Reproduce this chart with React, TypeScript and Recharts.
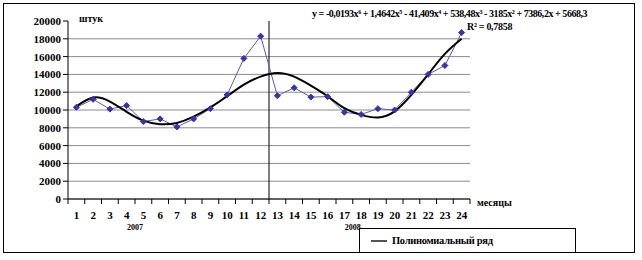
import { LineChart, Line, XAxis, YAxis, CartesianGrid, ReferenceLine } from "recharts"

// months 1..24 (2007 + 2008)
const months = [
  "1", "2", "3", "4", "5", "6", "7", "8", "9", "10", "11", "12",
  "13", "14", "15", "16", "17", "18", "19", "20", "21", "22", "23", "24",
]

// actual sales, pcs
const sales = [
  10300, 11200, 10100, 10500, 8700, 9000, 8100, 9000, 10150, 11700, 15800, 18300,
  11600, 12500, 11450, 11500, 9750, 9500, 10150, 10000, 12000, 14000, 15000, 18700,
]

// polynomial trendline
const trend = [
  10400, 11400, 10950, 9800, 8800, 8400, 8550, 9250, 10300, 11550, 12850, 13750,
  14150, 13750, 12750, 11550, 10200, 9450, 9150, 9850, 11700, 14000, 16300, 18000,
]

const yTicks = [0, 2000, 4000, 6000, 8000, 10000, 12000, 14000, 16000, 18000, 20000]
const gridValues = yTicks.filter((v) => v < 20000)

const years = [
  { label: "2007", at: "5" },
  { label: "2008", at: "18" },
]

const data = months.map((m, i) => ({ month: m, sales: sales[i], trend: trend[i] }))

const FONT = "'Liberation Serif', 'Times New Roman', serif"

function Diamond(props: any) {
  const { cx, cy } = props
  if (cx == null || cy == null) return null
  const r = 3
  return (
    <polygon
      points={`${cx},${cy - r} ${cx + r},${cy} ${cx},${cy + r} ${cx - r},${cy}`}
      fill="#3535a8"
      stroke="#3535a8"
    />
  )
}

function MonthTick(props: any) {
  const { x, y, payload } = props
  const half = payload.offset || 0
  const left = x - half
  const year = years.find((yr) => yr.at === payload.value)
  return (
    <g>
      <line x1={left} y1={y - 8} x2={left} y2={y - 3} stroke="#000" />
      {payload.index === months.length - 1 && (
        <line x1={x + half} y1={y - 8} x2={x + half} y2={y - 3} stroke="#000" />
      )}
      <text
        x={x}
        y={y + 12}
        textAnchor="middle"
        fontFamily={FONT}
        fontWeight="bold"
        fontSize={11}
        fill="#000"
      >
        {payload.value}
      </text>
      {year && (
        <text
          x={left}
          y={y + 23}
          textAnchor="middle"
          fontFamily={FONT}
          fontWeight="bold"
          fontSize={8}
          fill="#000"
        >
          {year.label}
        </text>
      )}
    </g>
  )
}

export default function App() {
  return (
    <div style={{ position: "absolute", left: 0, top: 0, width: 642, height: 260, background: "#fff" }}>
      <div
        style={{
          position: "absolute",
          left: 3,
          top: 3,
          width: 630,
          height: 248,
          border: "1.5px solid #000",
        }}
      />
      <LineChart
        width={642}
        height={260}
        data={data}
        margin={{ top: 21, right: 172, bottom: 31, left: 8 }}
        style={{ position: "absolute", left: 0, top: 0 }}
      >
        <CartesianGrid vertical={false} stroke="#8c8c8c" horizontalValues={gridValues} />
        <XAxis
          dataKey="month"
          scale="band"
          height={30}
          tickLine={false}
          axisLine={{ stroke: "#000" }}
          tick={<MonthTick />}
          interval={0}
        />
        <YAxis
          width={60}
          domain={[0, 20000]}
          ticks={yTicks}
          interval={0}
          tickSize={5}
          tickLine={{ stroke: "#000" }}
          axisLine={{ stroke: "#000" }}
          tick={{ fontFamily: FONT, fontWeight: "bold", fontSize: 11, fill: "#000" }}
        />
        <ReferenceLine x="12" position="end" stroke="#000" strokeWidth={1} ifOverflow="visible" />
        <Line
          dataKey="sales"
          stroke="#5a5ac0"
          strokeWidth={1}
          dot={<Diamond />}
          isAnimationActive={false}
        />
        <Line
          dataKey="trend"
          type="natural"
          stroke="#000"
          strokeWidth={2}
          dot={false}
          isAnimationActive={false}
        />
      </LineChart>

      <div style={{ position: "absolute", left: 79, top: 13, font: `bold 10px ${FONT}` }}>штук</div>
      <div style={{ position: "absolute", left: 477, top: 197, font: `bold 10px ${FONT}` }}>месяцы</div>
      <div
        style={{
          position: "absolute",
          left: 312,
          top: 8,
          font: `bold 10px ${FONT}`,
          letterSpacing: -0.45,
          whiteSpace: "nowrap",
        }}
      >
        y = -0,0193x⁶ + 1,4642x⁵ - 41,409x⁴ + 538,48x³ - 3185x² + 7386,2x + 5668,3
      </div>
      <div
        style={{
          position: "absolute",
          left: 467,
          top: 21,
          font: `bold 10px ${FONT}`,
          letterSpacing: -0.3,
          whiteSpace: "nowrap",
        }}
      >
        R² = 0,7858
      </div>

      <div
        style={{
          position: "absolute",
          left: 359,
          top: 228,
          width: 215,
          height: 23,
          border: "1.5px solid #000",
          background: "#fff",
          display: "flex",
          alignItems: "center",
        }}
      >
        <div style={{ width: 16, height: 0, borderTop: "2px solid #555", marginLeft: 11, marginRight: 5 }} />
        <span style={{ font: `bold 10.5px ${FONT}`, letterSpacing: -0.3, whiteSpace: "nowrap" }}>
          Полиномиальный ряд
        </span>
      </div>
    </div>
  )
}
